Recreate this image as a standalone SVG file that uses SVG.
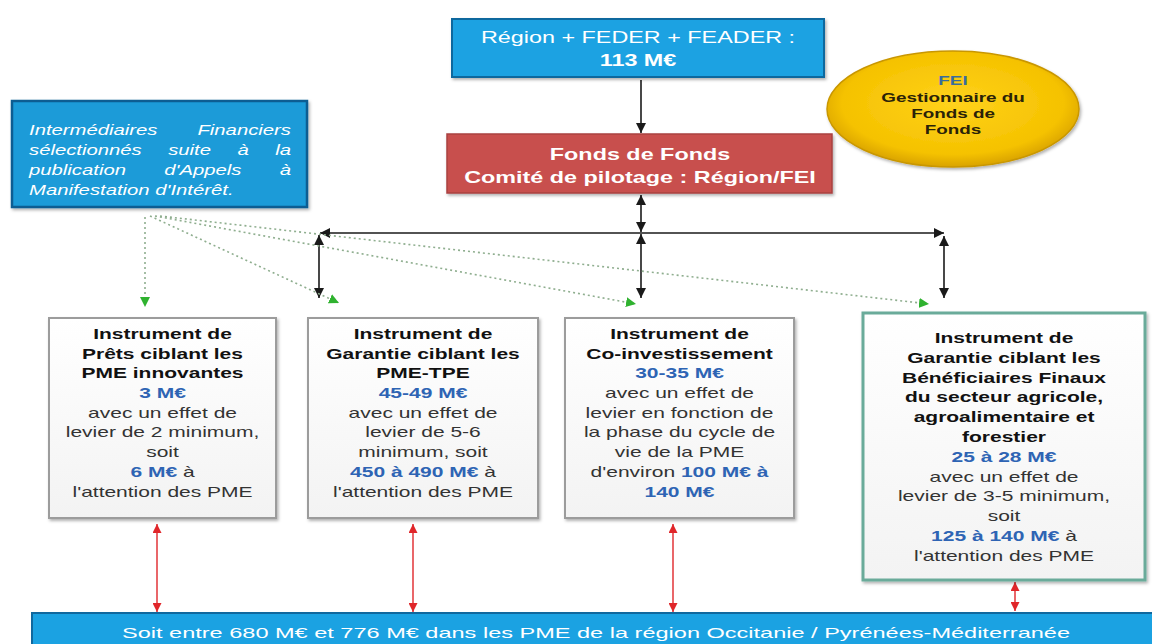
<svg xmlns="http://www.w3.org/2000/svg" width="1152" height="644" viewBox="0 0 1152 644">
  <defs>
    <style>
      text { font-family: "Liberation Sans", Arial, sans-serif; text-anchor: middle; }
      text.s { text-anchor: start; }
      text.e { text-anchor: end; }
      .t { font-size: 14px; fill: #333; }
      .b { font-size: 14px; font-weight: bold; fill: #111; }
      .n { font-weight: bold; fill: #2e64b4; }
      .w { fill: #ffffff; }
      .box { fill: url(#paper); stroke: #9c9c9c; stroke-width: 2; filter: url(#shadow); }
      .blue { fill: #1ba2e2; stroke: #10689e; stroke-width: 2; filter: url(#shadow); }
      .k { stroke: #1a1a1a; stroke-width: 1.6; fill: none; }
      .r { stroke: #e0262a; stroke-width: 1.4; fill: none; }
      .g { stroke: #8fae8f; stroke-width: 1.6; fill: none; stroke-dasharray: 2 3; }
    </style>
    <linearGradient id="paper" x1="0" y1="0" x2="0" y2="1">
      <stop offset="0" stop-color="#ffffff"/>
      <stop offset="1" stop-color="#f3f3f3"/>
    </linearGradient>
    <radialGradient id="gold" cx="0.5" cy="0.45" r="0.55">
      <stop offset="0" stop-color="#ffd21c"/>
      <stop offset="0.8" stop-color="#f5c200"/>
      <stop offset="1" stop-color="#d9a300"/>
    </radialGradient>
    <filter id="shadow" x="-10%" y="-10%" width="125%" height="130%">
      <feDropShadow dx="1.5" dy="2" stdDeviation="1.5" flood-color="#000" flood-opacity="0.3"/>
    </filter>
    <marker id="ak" viewBox="0 0 10 10" refX="10" refY="5" markerWidth="10" markerHeight="10" markerUnits="userSpaceOnUse" orient="auto-start-reverse">
      <path d="M0,0 L10,5 L0,10 z" fill="#1a1a1a"/>
    </marker>
    <marker id="ar" viewBox="0 0 10 10" refX="10" refY="5" markerWidth="9" markerHeight="9" markerUnits="userSpaceOnUse" orient="auto-start-reverse">
      <path d="M0,0 L10,5 L0,10 z" fill="#e0262a"/>
    </marker>
    <marker id="ag" viewBox="0 0 10 10" refX="10" refY="5" markerWidth="10" markerHeight="10" markerUnits="userSpaceOnUse" orient="auto">
      <path d="M0,0 L10,5 L0,10 z" fill="#2fb22f"/>
    </marker>
  </defs>

  <rect width="1152" height="644" fill="#ffffff"/>

  <!-- connectors -->
  <g id="connectors">
    <!-- funding flow -->
    <line class="k" x1="641" y1="80" x2="641" y2="133" marker-end="url(#ak)"/>
    <line class="k" x1="641" y1="195" x2="641" y2="232" marker-start="url(#ak)" marker-end="url(#ak)"/>
    <line class="k" x1="320" y1="233" x2="944" y2="233" marker-start="url(#ak)" marker-end="url(#ak)"/>
    <line class="k" x1="319" y1="235" x2="319" y2="298" marker-start="url(#ak)" marker-end="url(#ak)"/>
    <line class="k" x1="641" y1="234" x2="641" y2="298" marker-start="url(#ak)" marker-end="url(#ak)"/>
    <line class="k" x1="944" y1="236" x2="944" y2="298" marker-start="url(#ak)" marker-end="url(#ak)"/>
    <!-- selection of intermediaries -->
    <line class="g" x1="145" y1="217" x2="145" y2="307" marker-end="url(#ag)"/>
    <line class="g" x1="150" y1="216" x2="339" y2="303" marker-end="url(#ag)"/>
    <line class="g" x1="155" y1="216" x2="636" y2="304" marker-end="url(#ag)"/>
    <line class="g" x1="160" y1="216" x2="929" y2="304" marker-end="url(#ag)"/>
    <!-- instruments to SMEs -->
    <line class="r" x1="157" y1="524" x2="157" y2="612" marker-start="url(#ar)" marker-end="url(#ar)"/>
    <line class="r" x1="413" y1="524" x2="413" y2="612" marker-start="url(#ar)" marker-end="url(#ar)"/>
    <line class="r" x1="673" y1="524" x2="673" y2="612" marker-start="url(#ar)" marker-end="url(#ar)"/>
    <line class="r" x1="1015" y1="582" x2="1015" y2="611" marker-start="url(#ar)" marker-end="url(#ar)"/>
  </g>

  <!-- funding sources -->
  <g id="sources">
    <rect class="blue" x="452" y="19" width="372" height="58"/>
    <g transform="translate(638 0) scale(1.46 1)">
      <text class="w" y="43" font-size="16">Région + FEDER + FEADER :</text>
      <text class="w" y="66" font-size="16" font-weight="bold">113 M€</text>
    </g>
  </g>

  <!-- fund of funds -->
  <g id="fonds-de-fonds">
    <rect x="447" y="134" width="385" height="59" fill="#c8504e" stroke="#a94140" stroke-width="1.5" filter="url(#shadow)"/>
    <g transform="translate(640 0) scale(1.46 1)">
      <text class="w" y="160" font-size="16" font-weight="bold">Fonds de Fonds</text>
      <text class="w" y="183" font-size="16" font-weight="bold">Comité de pilotage : Région/FEI</text>
    </g>
  </g>

  <!-- manager -->
  <g id="fei">
    <ellipse cx="953" cy="109" rx="126" ry="58" fill="url(#gold)" stroke="#c99700" stroke-width="1.5" filter="url(#shadow)"/>
    <g transform="translate(953 0) scale(1.45 1)" font-size="13" font-weight="bold">
      <text y="85" fill="#3a6c9c">FEI</text>
      <text y="102" fill="#2a2208">Gestionnaire du</text>
      <text y="118" fill="#2a2208">Fonds de</text>
      <text y="134" fill="#2a2208">Fonds</text>
    </g>
  </g>

  <!-- financial intermediaries -->
  <g id="intermediaires">
    <rect x="12" y="101" width="295" height="106" fill="#1a9bd8" stroke="#0c5d92" stroke-width="2.5" filter="url(#shadow)"/>
    <g transform="translate(29 0) scale(1.45 1)" font-size="14" font-style="italic">
      <text class="w s" y="135">Intermédiaires</text>
      <text class="w e" x="180.7" y="135">Financiers</text>
      <text class="w s" y="155">sélectionnés</text>
      <text class="w s" x="96" y="155">suite</text>
      <text class="w s" x="143.8" y="155">à</text>
      <text class="w e" x="180.7" y="155">la</text>
      <text class="w s" y="175">publication</text>
      <text class="w s" x="93.3" y="175">d'Appels</text>
      <text class="w e" x="180.7" y="175">à</text>
      <text class="w s" y="195">Manifestation d'Intérêt.</text>
    </g>
  </g>

  <!-- instrument: loans -->
  <g id="instrument-prets">
    <rect class="box" x="49" y="318" width="227" height="200"/>
    <g transform="translate(162.5 0) scale(1.5 1)">
      <text class="b" y="339">Instrument de</text>
      <text class="b" y="358.7">Prêts ciblant les</text>
      <text class="b" y="378.4">PME innovantes</text>
      <text class="b n" y="398.1">3 M€</text>
      <text class="t" y="417.8">avec un effet de</text>
      <text class="t" y="437.5">levier de 2 minimum,</text>
      <text class="t" y="457.2">soit</text>
      <text class="t" y="476.9"><tspan class="n">6 M€</tspan> à</text>
      <text class="t" y="496.6">l'attention des PME</text>
    </g>
  </g>

  <!-- instrument: guarantee SME -->
  <g id="instrument-garantie-pme">
    <rect class="box" x="308" y="318" width="230" height="200"/>
    <g transform="translate(423 0) scale(1.5 1)">
      <text class="b" y="339">Instrument de</text>
      <text class="b" y="358.7">Garantie ciblant les</text>
      <text class="b" y="378.4">PME-TPE</text>
      <text class="b n" y="398.1">45-49 M€</text>
      <text class="t" y="417.8">avec un effet de</text>
      <text class="t" y="437.5">levier de 5-6</text>
      <text class="t" y="457.2">minimum, soit</text>
      <text class="t" y="476.9"><tspan class="n">450 à 490 M€</tspan> à</text>
      <text class="t" y="496.6">l'attention des PME</text>
    </g>
  </g>

  <!-- instrument: co-investment -->
  <g id="instrument-coinvestissement">
    <rect class="box" x="565" y="318" width="229" height="200"/>
    <g transform="translate(679.5 0) scale(1.5 1)">
      <text class="b" y="339">Instrument de</text>
      <text class="b" y="358.7">Co-investissement</text>
      <text class="b n" y="378.4">30-35 M€</text>
      <text class="t" y="398.1">avec un effet de</text>
      <text class="t" y="417.8">levier en fonction de</text>
      <text class="t" y="437.5">la phase du cycle de</text>
      <text class="t" y="457.2">vie de la PME</text>
      <text class="t" y="476.9">d'environ <tspan class="n">100 M€ à</tspan></text>
      <text class="b n" y="496.6">140 M€</text>
    </g>
  </g>

  <!-- instrument: guarantee agriculture -->
  <g id="instrument-garantie-agricole">
    <rect x="863" y="313" width="282" height="267" fill="url(#paper)" stroke="#6aab9a" stroke-width="3" filter="url(#shadow)"/>
    <g transform="translate(1004 0) scale(1.5 1)">
      <text class="b" y="343">Instrument de</text>
      <text class="b" y="362.8">Garantie ciblant les</text>
      <text class="b" y="382.6">Bénéficiaires Finaux</text>
      <text class="b" y="402.4">du secteur agricole,</text>
      <text class="b" y="422.2">agroalimentaire et</text>
      <text class="b" y="442">forestier</text>
      <text class="b n" y="461.8">25 à 28 M€</text>
      <text class="t" y="481.6">avec un effet de</text>
      <text class="t" y="501.4">levier de 3-5 minimum,</text>
      <text class="t" y="521.2">soit</text>
      <text class="t" y="541"><tspan class="n">125 à 140 M€</tspan> à</text>
      <text class="t" y="560.8">l'attention des PME</text>
    </g>
  </g>

  <!-- total for SMEs -->
  <g id="total">
    <rect x="32" y="613" width="1124" height="36" fill="#1ba2e2" stroke="#10689e" stroke-width="2"/>
    <text class="w" x="596" y="638" font-size="15" textLength="948" lengthAdjust="spacingAndGlyphs">Soit entre 680 M€ et 776 M€ dans les PME de la région Occitanie / Pyrénées-Méditerranée</text>
  </g>
</svg>
